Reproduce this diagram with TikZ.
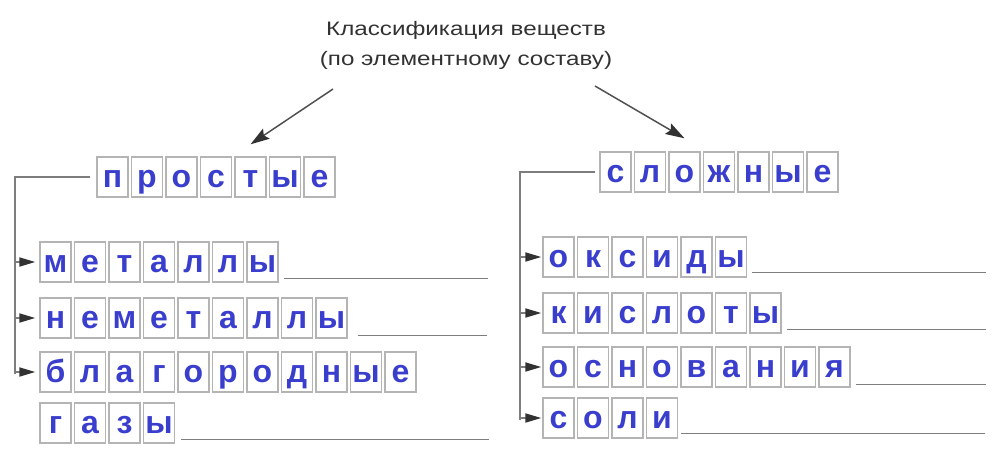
\documentclass[tikz,border=0pt]{standalone}
\usepackage{fontspec}
\setmainfont{Liberation Sans}
\usetikzlibrary{arrows.meta}

\definecolor{letterblue}{RGB}{58,62,205}
\definecolor{boxgray}{RGB}{180,180,180}
\definecolor{linegray}{RGB}{125,125,125}
\definecolor{titlegray}{RGB}{50,50,50}

\tikzset{
  letterbox/.style={draw=boxgray, line width=1.4pt, minimum width=31pt,
    inner sep=0pt, text height=30pt, text depth=10pt, text=letterblue,
    font=\fontsize{32}{32}\selectfont\bfseries},
  answerline/.style={draw=linegray, line width=1.3pt},
  bracket/.style={draw=linegray, line width=1.8pt},
  branch/.style={bracket, -{Triangle[length=16pt 0,width=9pt 0,color=titlegray]}},
  mainarrow/.style={draw=titlegray!85, line width=1.5pt,
    -{Stealth[length=19pt 0,width=12pt 0,inset=3pt,color=titlegray]}}
}

% one word, one box per letter: name, left edge, middle, letters
\newcommand{\wordrow}[4]{%
  \foreach \ch [count=\i] in {#4}
    \node[letterbox] (#1\i) at ({#2+15.5+34.5*(\i-1)},#3) {\ch};
}

\begin{document}
\begin{tikzpicture}[x=1pt, y=-1pt]
\useasboundingbox (0,0) rectangle (992,456);

\node (title) at (466,45) [text=titlegray, align=center,
  font=\fontsize{19.5}{30}\selectfont]
  {\scalebox{1.24}[1]{Классификация веществ}\\
   \scalebox{1.24}[1]{(по элементному составу)}};

% left group
\wordrow{pr}{97}{177}{п,р,о,с,т,ы,е}
\wordrow{me}{40}{262}{м,е,т,а,л,л,ы}
\wordrow{nm}{40}{318}{н,е,м,е,т,а,л,л,ы}
\wordrow{bl}{40}{372}{б,л,а,г,о,р,о,д,н,ы,е}
\wordrow{gz}{40}{423}{г,а,з,ы}

% right group
\wordrow{sl}{600}{172}{с,л,о,ж,н,ы,е}
\wordrow{ok}{543}{257}{о,к,с,и,д,ы}
\wordrow{ks}{543}{313}{к,и,с,л,о,т,ы}
\wordrow{os}{543}{367}{о,с,н,о,в,а,н,и,я}
\wordrow{so}{543}{418}{с,о,л,и}

\coordinate (tl) at (333,89);
\coordinate (tr) at (595,86);
\draw [mainarrow] (tl) -- ([yshift=12pt]pr5.north);
\draw [mainarrow] (tr) -- ([yshift=13pt]sl3.north);

\coordinate (lcorner) at (15,177);
\coordinate (rcorner) at (520,172);
\draw [bracket] ([xshift=-6pt]pr1.west) -- (lcorner) -- ([yshift=-2pt]lcorner |- bl1.west);
\draw [bracket] ([xshift=-4pt]sl1.west) -- (rcorner) -- ([yshift=-2pt]rcorner |- so1.west);
\foreach \n in {me1,nm1,bl1}
  \draw [branch] (lcorner |- \n.west) -- ([xshift=-4pt]\n.west);
\foreach \n in {ok1,ks1,os1,so1}
  \draw [branch] (rcorner |- \n.west) -- ([xshift=-1pt]\n.west);

% lines to write in
\draw [answerline] ([xshift=5pt,yshift=4pt]me7.south east) -- +(204,0);
\draw [answerline] ([xshift=10pt,yshift=3pt]nm9.south east) -- +(129,0);
\draw [answerline] ([xshift=6pt,yshift=4pt]gz4.south east) -- +(308,0);
\draw [answerline] ([xshift=5pt,yshift=5pt]ok6.south east) -- +(234,0);
\draw [answerline] ([xshift=5pt,yshift=4pt]ks7.south east) -- +(199,0);
\draw [answerline] ([xshift=5pt,yshift=3pt]os9.south east) -- +(130,0);
\draw [answerline] ([xshift=3pt,yshift=5pt]so4.south east) -- +(304,0);
\end{tikzpicture}
\end{document}
